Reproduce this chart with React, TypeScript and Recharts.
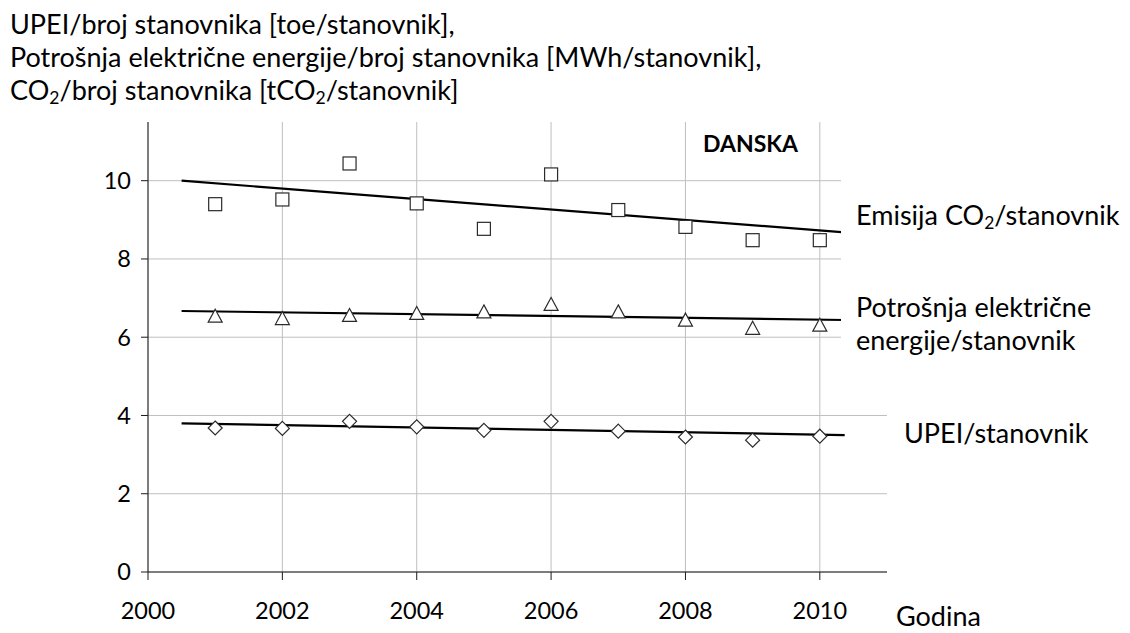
import React from 'react';
import { ComposedChart, Scatter, XAxis, YAxis, CartesianGrid } from 'recharts';

const years = [2001, 2002, 2003, 2004, 2005, 2006, 2007, 2008, 2009, 2010];
const co2PerCapita = [9.40, 9.52, 10.44, 9.42, 8.77, 10.16, 9.25, 8.82, 8.48, 8.48];
const electricityPerCapita = [6.55, 6.49, 6.57, 6.62, 6.66, 6.85, 6.66, 6.45, 6.24, 6.32];
const upeiPerCapita = [3.68, 3.67, 3.85, 3.71, 3.62, 3.85, 3.60, 3.45, 3.37, 3.47];

const trendYears = [2000.5, 2010.37];
const co2Trend = [10.0, 8.68];
const electricityTrend = [6.67, 6.44];
const upeiTrend = [3.80, 3.50];

const xTicks = [2000, 2002, 2004, 2006, 2008, 2010];
const yTicks = [0, 2, 4, 6, 8, 10];

const FONT = 'Lato, "Open Sans", sans-serif';
const TICK_FS = 23.5;
const LABEL_FS = 27;

const toPoints = (xs: number[], ys: number[]) => xs.map((x, i) => ({ x, y: ys[i] }));

const MARK_STROKE = '#2b2b2b';

const Square = (p: any) => (
  <rect x={p.cx - 6.5} y={p.cy - 6.5} width={13} height={13} fill="#fff" stroke={MARK_STROKE} strokeWidth={1.2} />
);
const Triangle = (p: any) => (
  <polygon
    points={`${p.cx},${p.cy - 6.5} ${p.cx + 7},${p.cy + 6.5} ${p.cx - 7},${p.cy + 6.5}`}
    fill="#fff"
    stroke={MARK_STROKE}
    strokeWidth={1.2}
  />
);
const Diamond = (p: any) => (
  <polygon
    points={`${p.cx},${p.cy - 7} ${p.cx + 7},${p.cy} ${p.cx},${p.cy + 7} ${p.cx - 7},${p.cy}`}
    fill="#fff"
    stroke={MARK_STROKE}
    strokeWidth={1.2}
  />
);
const NoShape = () => <g />;

const Sub = ({ children }: { children: React.ReactNode }) => (
  <tspan baselineShift="-22%" fontSize={LABEL_FS * 0.65}>{children}</tspan>
);

export default function App() {
  return (
    <div style={{ position: 'fixed', left: 0, top: 0, width: 1130, height: 633, background: '#fff' }}>
      <ComposedChart
        width={1130}
        height={633}
        margin={{ top: 122, right: 243, bottom: 31, left: 0 }}
      >
        <CartesianGrid
          stroke="#bfbfbf"
          strokeWidth={1}
          verticalValues={xTicks}
          horizontalValues={yTicks}
        />
        <XAxis
          type="number"
          dataKey="x"
          domain={[2000, 2011]}
          ticks={xTicks}
          allowDataOverflow
          height={30}
          tickSize={8}
          tickMargin={22}
          axisLine={{ stroke: '#1a1a1a' }}
          tickLine={{ stroke: '#1a1a1a' }}
          tick={{ fill: '#000', fontSize: TICK_FS, fontFamily: FONT }}
        />
        <YAxis
          type="number"
          dataKey="y"
          domain={[0, 11.5]}
          ticks={yTicks}
          allowDataOverflow
          width={148}
          tickSize={7}
          tickMargin={10}
          axisLine={{ stroke: '#1a1a1a' }}
          tickLine={{ stroke: '#1a1a1a' }}
          tick={{ fill: '#000', fontSize: TICK_FS, fontFamily: FONT }}
        />
        <Scatter data={toPoints(trendYears, co2Trend)} line={{ stroke: '#000', strokeWidth: 2.2 }} lineType="joint" shape={NoShape} isAnimationActive={false} />
        <Scatter data={toPoints(trendYears, electricityTrend)} line={{ stroke: '#000', strokeWidth: 2.2 }} lineType="joint" shape={NoShape} isAnimationActive={false} />
        <Scatter data={toPoints(trendYears, upeiTrend)} line={{ stroke: '#000', strokeWidth: 2.2 }} lineType="joint" shape={NoShape} isAnimationActive={false} />
        <Scatter data={toPoints(years, co2PerCapita)} shape={Square} isAnimationActive={false} />
        <Scatter data={toPoints(years, electricityPerCapita)} shape={Triangle} isAnimationActive={false} />
        <Scatter data={toPoints(years, upeiPerCapita)} shape={Diamond} isAnimationActive={false} />
      </ComposedChart>
      <svg
        width={1130}
        height={633}
        style={{ position: 'absolute', left: 0, top: 0, pointerEvents: 'none' }}
        fontFamily={FONT}
        fontSize={LABEL_FS}
        fill="#000"
      >
        <rect x={841} y={165} width={289} height={105} fill="#fff" />
        <rect x={841} y={285} width={289} height={110} fill="#fff" />
        <text x={10} y={34}>UPEI/broj stanovnika [toe/stanovnik],</text>
        <text x={10} y={67}>Potrošnja električne energije/broj stanovnika [MWh/stanovnik],</text>
        <text x={10} y={100}>
          CO<Sub>2</Sub>/broj stanovnika [tCO<Sub>2</Sub>/stanovnik]
        </text>
        <text x={703} y={152} fontWeight="bold" fontSize={23}>DANSKA</text>
        <text x={856} y={225}>
          Emisija CO<Sub>2</Sub>/stanovnik
        </text>
        <text x={856} y={317}>Potrošnja električne</text>
        <text x={856} y={350}>energije/stanovnik</text>
        <text x={904} y={443}>UPEI/stanovnik</text>
        <text x={896} y={626}>Godina</text>
      </svg>
    </div>
  );
}
